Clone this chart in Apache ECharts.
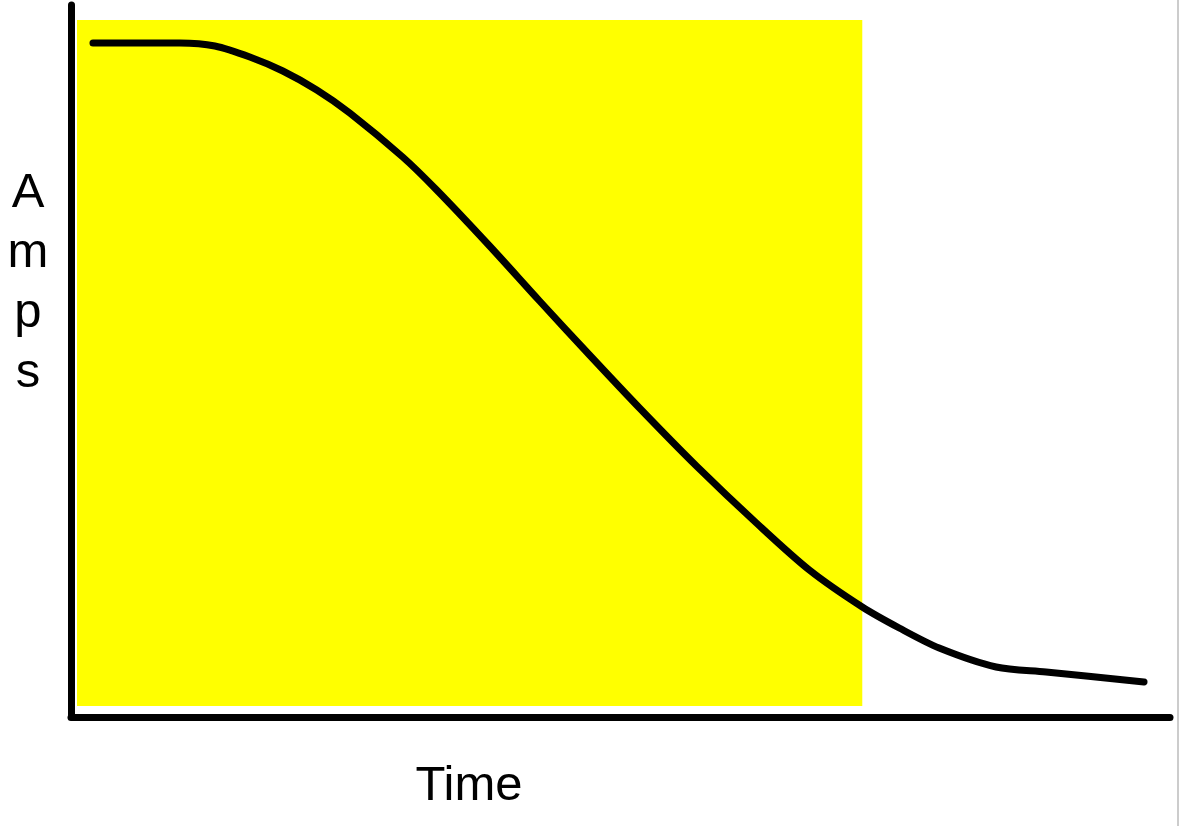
<!DOCTYPE html>
<html>
<head>
<meta charset="utf-8">
<script src="https://cdn.jsdelivr.net/npm/echarts@6/dist/echarts.min.js"></script>
<style>html,body{margin:0;padding:0;background:#fff}#c{width:1179px;height:826px}</style>
</head>
<body>
<div id="c"></div>
<script>
// Time values and Amps values (arbitrary units)
var timeValues = [22, 109, 144, 179, 212, 246, 279, 332, 366, 419, 469, 519, 569, 626, 686, 739, 792, 829, 869, 926, 976, 1074];
var ampValues  = [674, 674, 671, 660, 646, 627, 604, 560, 527, 471, 416, 362, 309, 251, 194, 147, 110, 89, 69, 50, 45, 35];
var highlightRange = [6, 792];   // yellow band along Time
var highlightAmps = [11, 697];   // yellow band along Amps
var xLabel = "Time";
var yLabelLetters = ["A", "m", "p", "s"];

var chart = echarts.init(document.getElementById('c'), null, {renderer: 'canvas'});
var pts = timeValues.map(function (t, i) { return [t, ampValues[i]]; });

var FONT = '49px "Liberation Sans", Arial, sans-serif';
var graphics = [];
graphics.push({
  type: 'text', x: 469, y: 811,
  style: {text: xLabel, font: FONT, fill: '#000', textAlign: 'center', textVerticalAlign: 'bottom'}
});
yLabelLetters.forEach(function (ch, i) {
  graphics.push({
    type: 'text', x: 28, y: 218 + i * 60,
    style: {text: ch, font: FONT, fill: '#000', textAlign: 'center', textVerticalAlign: 'bottom'}
  });
});
graphics.push({type: 'line', shape: {x1: 1178, y1: 0, x2: 1178, y2: 826}, style: {stroke: '#999', lineWidth: 1}});

chart.setOption({
  animation: false,
  backgroundColor: '#fff',
  grid: {left: 71, right: 9, top: 5, bottom: 109, containLabel: false},
  xAxis: {
    type: 'value', min: 0, max: 1100,
    axisLine: {show: true, lineStyle: {color: '#000', width: 7, cap: 'round'}},
    axisTick: {show: false}, axisLabel: {show: false}, splitLine: {show: false}
  },
  yAxis: {
    type: 'value', min: 0, max: 712,
    axisLine: {show: true, lineStyle: {color: '#000', width: 7, cap: 'round'}},
    axisTick: {show: false}, axisLabel: {show: false}, splitLine: {show: false}
  },
  graphic: graphics,
  series: [{
    type: 'line',
    data: pts,
    smooth: 0.3,
    symbol: 'none',
    lineStyle: {color: '#000', width: 7, cap: 'round', join: 'round'},
    z: 3,
    markArea: {
      silent: true,
      itemStyle: {color: '#ffff00', opacity: 1},
      data: [[{coord: [highlightRange[0], highlightAmps[0]]}, {coord: [highlightRange[1], highlightAmps[1]]}]]
    }
  }]
});
</script>
</body>
</html>
